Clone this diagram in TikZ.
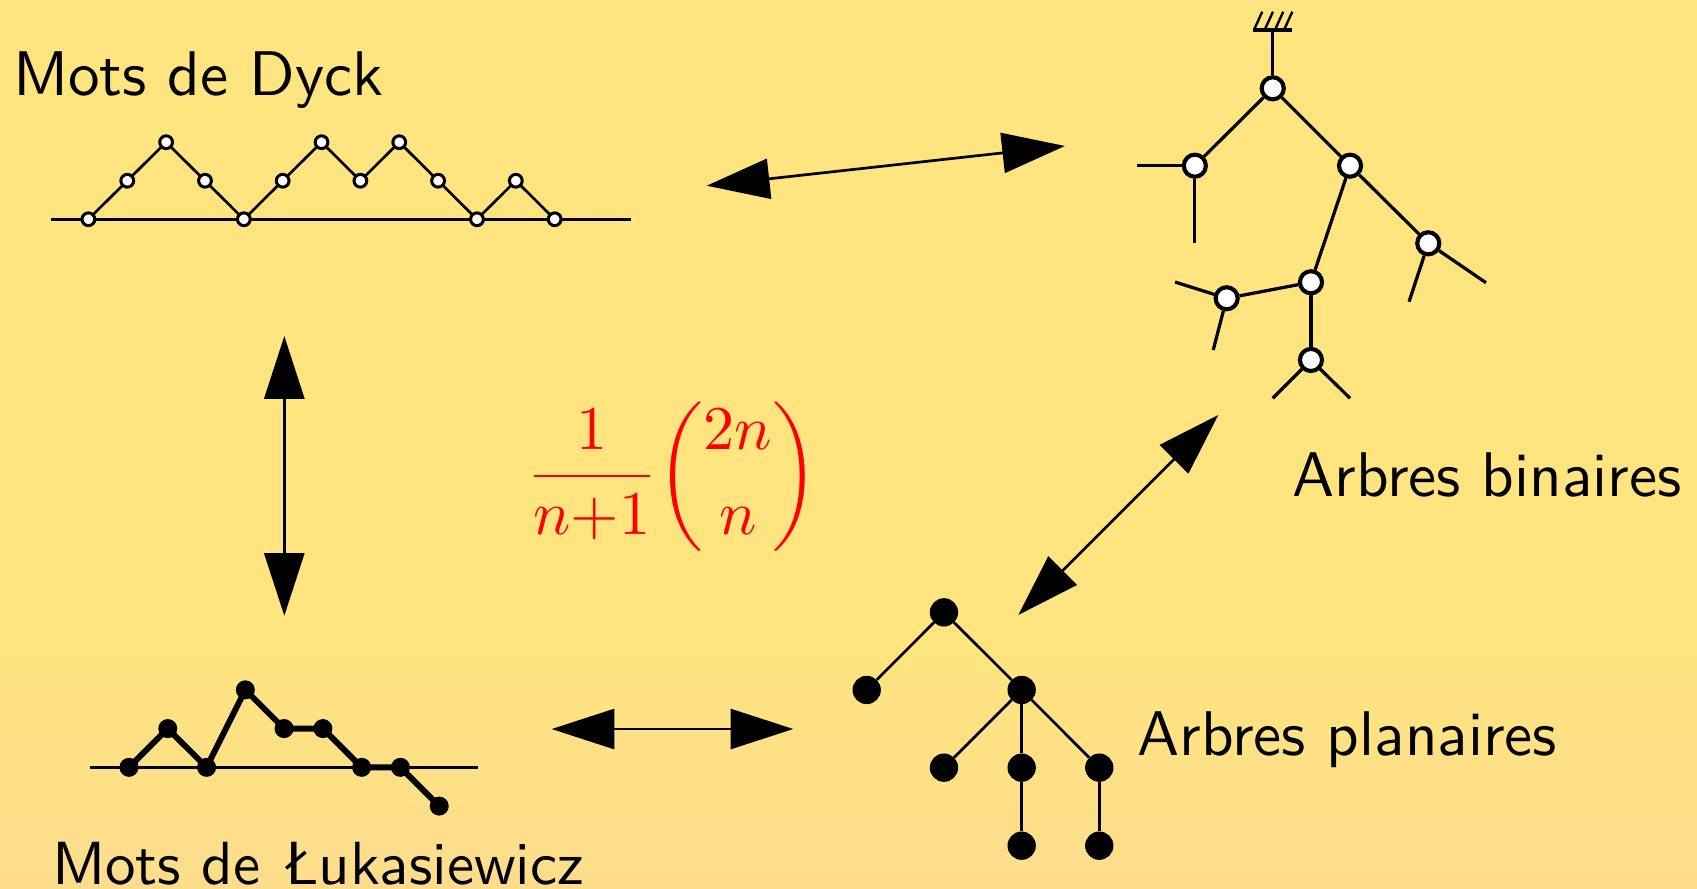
\documentclass[tikz,border=0pt]{standalone}
\usepackage{amsmath}
\usepackage{graphicx}
\usetikzlibrary{arrows.meta}
\definecolor{bgY}{RGB}{255,228,128}
\definecolor{bgO}{RGB}{253,221,140}
\newcommand{\bigtext}[2][5.83]{\scalebox{#1}{\fontsize{10}{12}\selectfont\sffamily #2}}
\tikzset{
  wnode/.style={circle, draw=black, fill=white, line width=3.8pt, minimum size=20.4pt, inner sep=0pt},
  dnode/.style={circle, draw=black, fill=white, line width=2.8pt, minimum size=11.8pt, inner sep=0pt},
  bnode/.style={circle, fill=black, minimum size=26.2pt, inner sep=0pt},
  lnode/.style={circle, fill=black, minimum size=17.6pt, inner sep=0pt},
  tedge/.style={line width=3pt},
  pedge/.style={line width=2.5pt},
  axisline/.style={line width=2.5pt},
  lbl/.style={inner sep=0pt, anchor=base west},
  dblarrow/.style={{Triangle[length=58pt,width=37pt]}-{Triangle[length=58pt,width=37pt]}, line width=2.5pt}
}
\begin{document}
\begin{tikzpicture}[x=1pt,y=-1pt]
\useasboundingbox (0,0) rectangle (1568,821);
\fill[bgY] (0,0) rectangle (1568,821);
\shade[top color=bgY,bottom color=bgO] (0,600) rectangle (1568,821);

% ---------- Dyck path ----------
\coordinate (dl) at (46.7,202.6);
\coordinate (dr) at (583.3,202.6);
\draw[axisline] (dl) -- (dr);
\foreach \h [count=\i from 0] in {0,1,2,1,0,1,2,1,2,1,0,1,0} {
  \coordinate (dc\i) at ({81.7+35.9*\i},{202.6-35.6*\h});
}
\draw[pedge] (dc0) \foreach \i in {1,...,12} { -- (dc\i) };
\foreach \i in {0,...,12} { \node[dnode] (d\i) at (dc\i) {}; }
\node[lbl] (tdyck) at (12,88) {\bigtext{Mots de Dyck}};

% ---------- Lukasiewicz path ----------
\coordinate (ll) at (83.2,709);
\coordinate (lr) at (442,709);
\draw[axisline] (ll) -- (lr);
\foreach \h [count=\i from 0] in {0,1,0,2,1,1,0,0,-1} {
  \coordinate (lc\i) at ({119.2+35.83*\i},{709-35.8*\h});
}
\draw[line width=5.5pt, line join=round] (lc0) \foreach \i in {1,...,8} { -- (lc\i) };
\foreach \i in {0,...,8} { \node[lnode] (l\i) at (lc\i) {}; }
\node[lbl] (tluk) at (48,817) {\bigtext[5.63]{Mots de Łukasiewicz}};

% ---------- Binary tree ----------
\coordinate (gnd) at (1176,27.7);
\draw[line width=3.7pt] (1158,27.7) -- (1194,27.7);
\foreach \x in {1158.6,1168.5,1178,1186.4} { \draw[line width=2.2pt] (\x,27.7) -- ++(7.7,-16.9); }
\node[wnode] (br) at (1176,81.6) {};
\node[wnode] (bL) at (1104,153.1) {};
\node[wnode] (bR) at (1247.4,153.1) {};
\node[wnode] (bRR) at (1319.7,224.8) {};
\node[wnode] (bRL) at (1211.3,260.8) {};
\node[wnode] (bRLL) at (1133.4,275.6) {};
\node[wnode] (bRLR) at (1211.3,332.6) {};
\coordinate (sL1) at (1050.3,153.1);
\coordinate (sL2) at (1104,224.8);
\coordinate (sRR1) at (1301.9,278.8);
\coordinate (sRR2) at (1373,261.2);
\coordinate (sRLL1) at (1085.7,260.6);
\coordinate (sRLL2) at (1121,323.4);
\coordinate (sRLR1) at (1176,368);
\coordinate (sRLR2) at (1247.4,368);
\draw[tedge] (gnd) -- (br);
\draw[tedge] (br) -- (bL);
\draw[tedge] (br) -- (bR);
\draw[tedge] (bR) -- (bRL);
\draw[tedge] (bR) -- (bRR);
\draw[tedge] (bRL) -- (bRLL);
\draw[tedge] (bRL) -- (bRLR);
\draw[tedge] (bL) -- (sL1);
\draw[tedge] (bL) -- (sL2);
\draw[tedge] (bRR) -- (sRR1);
\draw[tedge] (bRR) -- (sRR2);
\draw[tedge] (bRLL) -- (sRLL1);
\draw[tedge] (bRLL) -- (sRLL2);
\draw[tedge] (bRLR) -- (sRLR1);
\draw[tedge] (bRLR) -- (sRLR2);
\node[lbl] (tbin) at (1194,459) {\bigtext{Arbres binaires}};

% ---------- Planar tree ----------
\node[bnode] (pr) at (872.2,565.8) {};
\node[bnode] (pA) at (800.8,637.5) {};
\node[bnode] (pB) at (944,637.5) {};
\node[bnode] (pB1) at (872.2,709.3) {};
\node[bnode] (pB2) at (944,709.3) {};
\node[bnode] (pB3) at (1015.7,709.3) {};
\node[bnode] (pB2a) at (944,781.4) {};
\node[bnode] (pB3a) at (1015.7,781.4) {};
\draw[pedge] (pr) -- (pA);
\draw[pedge] (pr) -- (pB);
\draw[pedge] (pB) -- (pB1);
\draw[pedge] (pB) -- (pB2);
\draw[pedge] (pB) -- (pB3);
\draw[pedge] (pB2) -- (pB2a);
\draw[pedge] (pB3) -- (pB3a);
\node[lbl] (tplan) at (1051,698) {\bigtext{Arbres planaires}};

% ---------- Formula ----------
\node[inner sep=0pt, text=red] (catalan) at (621,440)
  {\scalebox{5.75}{\fontsize{10}{12}\selectfont$\medmuskip=0mu\displaystyle \frac{1}{n+1}\binom{2n}{n}$}};

% ---------- Arrows ----------
\coordinate (a1s) at (653,171.6);
\coordinate (a1e) at (984,134.9);
\coordinate (a2s) at (262.7,310.5);
\coordinate (a2e) at (262.7,569);
\coordinate (a3s) at (509.7,673.6);
\coordinate (a3e) at (733,673.6);
\coordinate (a4s) at (940.9,568.2);
\coordinate (a4e) at (1125.7,383.4);
\draw[dblarrow] (a1s) -- (a1e);
\draw[dblarrow] (a2s) -- (a2e);
\draw[dblarrow] (a3s) -- (a3e);
\draw[dblarrow] (a4s) -- (a4e);
\end{tikzpicture}
\end{document}
